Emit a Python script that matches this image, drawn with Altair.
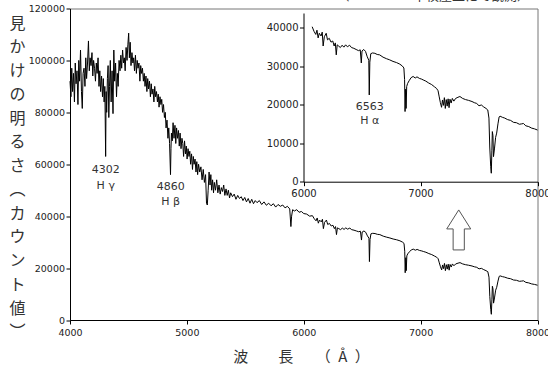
import altair as alt
import pandas as pd

# ---- spectrum (wavelength in Å, counts) ----
wavelength = [
    4000, 4008, 4015, 4022, 4030, 4038, 4045, 4052, 4060, 4068, 4075, 4082, 4090, 4098, 4105, 4112,
    4120, 4128, 4135, 4142, 4150, 4158, 4165, 4172, 4180, 4188, 4195, 4202, 4210, 4218, 4225, 4232,
    4240, 4248, 4255, 4262, 4270, 4278, 4285, 4292, 4298, 4305, 4309, 4314, 4320, 4326, 4332, 4338,
    4345, 4352, 4360, 4368, 4375, 4382, 4390, 4398, 4405, 4412, 4420, 4428, 4435, 4442, 4450, 4458,
    4465, 4472, 4480, 4488, 4495, 4502, 4508, 4515, 4522, 4530, 4538, 4545, 4552, 4560, 4568, 4575,
    4582, 4590, 4598, 4605, 4612, 4620, 4628, 4635, 4642, 4650, 4658, 4665, 4672, 4680, 4688, 4695,
    4702, 4710, 4718, 4725, 4732, 4740, 4748, 4755, 4762, 4770, 4778, 4785, 4792, 4800, 4808, 4815,
    4822, 4830, 4838, 4845, 4852, 4860, 4864, 4868, 4875, 4882, 4890, 4898, 4905, 4912, 4920, 4928,
    4935, 4942, 4950, 4958, 4965, 4972, 4980, 4988, 4995, 5002, 5010, 5018, 5025, 5032, 5040, 5048,
    5055, 5062, 5070, 5078, 5085, 5092, 5100, 5110, 5120, 5130, 5140, 5150, 5160, 5168, 5175, 5182,
    5190, 5198, 5205, 5212, 5220, 5228, 5235, 5245, 5255, 5265, 5275, 5285, 5295, 5305, 5315, 5325,
    5335, 5345, 5355, 5365, 5375, 5390, 5405, 5420, 5435, 5450, 5465, 5480, 5495, 5510, 5525, 5540,
    5555, 5570, 5585, 5600, 5620, 5640, 5660, 5680, 5700, 5720, 5740, 5760, 5780, 5800, 5820, 5840,
    5860, 5880, 5890, 5896, 5905, 5920, 5940, 5960, 5980, 6000, 6025, 6050,
    6074, 6090, 6105, 6115, 6125, 6135, 6150, 6160, 6168, 6178, 6194, 6205, 6220, 6235, 6250, 6262,
    6272, 6280, 6288, 6300, 6315, 6330, 6345, 6360, 6375, 6394, 6410, 6430, 6450, 6470, 6485, 6494,
    6500, 6515, 6530, 6545, 6558, 6562, 6567, 6575, 6590, 6610, 6630, 6651, 6680, 6710, 6737, 6765,
    6795, 6823, 6845, 6858, 6864, 6868, 6873, 6877, 6882, 6890, 6905, 6920, 6937, 6955, 6970, 6990,
    7010, 7023, 7045, 7070, 7095, 7120, 7137, 7150, 7160, 7170, 7180, 7188, 7196, 7204, 7212, 7220,
    7228, 7236, 7244, 7252, 7262, 7272, 7285, 7300, 7320, 7337, 7360, 7385, 7410, 7440, 7460, 7480,
    7500, 7520, 7540, 7560, 7575, 7585, 7592, 7600, 7605, 7610, 7614, 7619, 7624, 7632, 7642, 7651,
    7662, 7672, 7680, 7700, 7720, 7745, 7770, 7795, 7820, 7845, 7865, 7880, 7900, 7925, 7950, 7975,
    8000,
]
counts = [
    92000, 86000, 97000, 88000, 95000, 84000, 99000, 91000, 96000, 83000, 100000, 92000, 104000, 88000, 81500, 95000,
    97000, 90000, 101000, 93000, 99000, 107500, 96000, 101000, 98000, 103000, 94000, 100000, 97000, 92000, 99000, 95000,
    101000, 90000, 96000, 88000, 94000, 86000, 93000, 84000, 90000, 63000, 88000, 80000, 93000, 98000, 78000, 90000,
    100000, 84000, 96000, 79500, 104000, 92000, 99000, 86000, 95000, 90000, 100000, 96000, 102000, 97000, 104000, 99000,
    101000, 96000, 105000, 100000, 106000, 110500, 101000, 107000, 98000, 103000, 99000, 101000, 96000, 102000, 95000, 100000,
    97000, 99000, 92000, 98000, 95000, 97000, 92000, 95000, 90000, 94000, 88000, 93000, 89000, 92000, 86000, 91000,
    87000, 89000, 84000, 90000, 86000, 88000, 84000, 87000, 82000, 86000, 83000, 85000, 80000, 83000, 78000, 80000,
    74000, 77000, 70000, 74000, 68000, 56000, 66000, 72000, 69000, 76000, 70000, 75000, 68000, 74000, 70000, 73000,
    67000, 72000, 66000, 70000, 68000, 63000, 69000, 64000, 67000, 62000, 66000, 63000, 65000, 60000, 64000, 58000,
    63000, 60000, 62000, 57000, 61000, 56000, 60000, 57000, 59000, 54000, 58000, 53000, 56000, 45000, 44300, 50000,
    57000, 52000, 56000, 50000, 54000, 49000, 53000, 50000, 54000, 49000, 52000, 48500, 51000, 49500, 52000, 48000,
    50500, 48000, 50000, 47000, 49000, 47500, 48500, 46500, 48000, 46800, 47500, 46000, 47200, 45500, 46800, 45000,
    46500, 44800, 46000, 45200, 46000, 44500, 45500, 44200, 45000, 44000, 44800, 43500, 44500, 43800, 44300, 43200,
    43800, 42800, 36000, 40000, 42500, 42000, 42500, 41500, 41800, 41000, 40800, 40000,
    40200, 39000, 38200, 39300, 37300, 38500, 37800, 38800, 35200, 37600, 38500, 36800, 37200, 36200, 36500, 35200,
    36000, 32900, 35500, 35200, 34800, 35400, 34900, 35500, 35000, 35400, 34800, 34600, 34300, 34000, 34200, 30800,
    33900, 34300, 33800, 32400, 31500, 22500, 31000, 33200, 33400, 33300, 33000, 32900, 32300, 31900, 31600, 31200,
    30900, 30500, 30000, 29500, 26500, 18200, 24000, 19000, 24700, 25500, 26300, 27000, 27300, 26900, 27200, 26800,
    26600, 26400, 26100, 25600, 25200, 24600, 24200, 23600, 22000, 20500, 19300, 21200, 19800, 21800, 19000, 21300,
    19600, 21500, 19200, 21400, 20400, 21600, 20900, 21600, 21900, 22100, 21600, 21300, 21100, 20800, 20500, 20300,
    19700, 19900, 19400, 19000, 18600, 16500, 9000, 4000, 2200, 8000, 13000, 12000, 6500, 8500, 11500, 12600,
    15000, 16800, 17000, 16700, 16500, 16100, 15900, 15400, 15300, 14900, 15000, 15100, 14500, 14300, 13900, 13700,
    13400,
]

# ---- axis ticks ----
main_x_ticks = [4000, 5000, 6000, 7000, 8000]
main_y_ticks = [0, 20000, 40000, 60000, 80000, 100000, 120000]
inset_x_ticks = [6000, 7000, 8000]
inset_y_ticks = [0, 10000, 20000, 30000, 40000]

# ---- annotations ----
main_ann_wl = [4306, 4306, 4862, 4862]
main_ann_val = [57800, 51600, 51300, 45600]
main_ann_text = ["4302", "H γ", "4860", "H β"]
inset_ann_wl = [6566, 6566]
inset_ann_val = [19450, 15750]
inset_ann_text = ["6563", "H α"]
arrow_wl = [7326]
arrow_val = [34700]

y_title = ["見", "か", "け", "の", "明", "る", "さ", "︵", "カ", "ウ", "ン", "ト", "値", "︶"]
x_title = "波　　長　　（\u2002Å\u2002）"
caption = "（2014.5.1　本校屋上にて観測）"

spec = pd.DataFrame({"wl": wavelength, "v": counts})
spec_inset = spec[spec["wl"] >= 6070]
ann_main = pd.DataFrame({"wl": main_ann_wl, "v": main_ann_val, "t": main_ann_text})
ann_inset = pd.DataFrame({"wl": inset_ann_wl, "v": inset_ann_val, "t": inset_ann_text})
arrow_df = pd.DataFrame({"wl": arrow_wl, "v": arrow_val})

W, H = 467.5, 311.5
TICKFONT = "DejaVu Sans"
JP = "Noto Sans CJK JP"

main_x = alt.X("wl:Q", scale=alt.Scale(domain=[4000, 8000], nice=False, zero=False),
               axis=alt.Axis(values=main_x_ticks, format="d", labelFlush=False, grid=False,
                             tickSize=4, labelPadding=3, labelFont=TICKFONT, labelFontSize=9.5,
                             labelColor="#222", domainColor="#000", tickColor="#000",
                             title=x_title, titleFont=JP, titleFontSize=15, titleFontWeight="normal",
                             titleColor="#333", titleBaseline="alphabetic", titleAlign="center",
                             titleX=231, titleY=41.7))
main_y = alt.Y("v:Q", scale=alt.Scale(domain=[0, 120000], nice=False),
               axis=alt.Axis(values=main_y_ticks, format="d", labelFlush=False, grid=False,
                             tickSize=4, labelPadding=1.5, labelFont=TICKFONT, labelFontSize=9.5,
                             labelColor="#222", domainColor="#000", tickColor="#000",
                             title=y_title, titleAngle=0, titleFont=JP, titleFontSize=16,
                             titleFontWeight="normal", titleColor="#333", titleAlign="center",
                             titleBaseline="alphabetic", titleLineHeight=23.75,
                             titleX=-53, titleY=19.5))

main_line = alt.Chart(spec).mark_line(color="black", strokeWidth=1).encode(x=main_x, y=main_y)
main_text = alt.Chart(ann_main).mark_text(font=TICKFONT, fontSize=11, color="#333",
                                          baseline="middle").encode(x="wl:Q", y="v:Q", text="t:N")
arrow = alt.Chart(arrow_df).mark_point(
    shape="M0,-1 L0.6,-0.05 L0.28,-0.05 L0.28,1 L-0.28,1 L-0.28,-0.05 L-0.6,-0.05 Z",
    size=1600, filled=True, fill="white", stroke="#555", strokeWidth=1, opacity=1
).encode(x="wl:Q", y="v:Q")
cap = alt.Chart(pd.DataFrame({"t": [caption]})).mark_text(
    font=JP, fontSize=13, color="#333", align="right", baseline="alphabetic"
).encode(x=alt.value(460), y=alt.value(-8.5), text="t:N")

main = alt.layer(main_line, main_text, arrow, cap)

inset_x = alt.X("wl:Q", scale=alt.Scale(domain=[6000, 8000], range=[233.5, 467.5], nice=False, zero=False),
                axis=alt.Axis(orient="bottom", offset=-138.3, values=inset_x_ticks, format="d",
                              labelFlush=False, grid=False, tickSize=4, labelPadding=3,
                              labelFont=TICKFONT, labelFontSize=10, labelColor="#222",
                              domainColor="#000", tickColor="#000", title=None))
inset_y = alt.Y("v:Q", scale=alt.Scale(domain=[0, 43760], range=[173.2, 4.5], nice=False),
                axis=alt.Axis(orient="left", offset=-233.5, values=inset_y_ticks, format="d",
                              labelFlush=False, grid=False, tickSize=4, labelPadding=1.5,
                              labelFont=TICKFONT, labelFontSize=10, labelColor="#222",
                              domainColor="#000", tickColor="#000", title=None))

inset_line = alt.Chart(spec_inset).mark_line(color="black", strokeWidth=1).encode(x=inset_x, y=inset_y)
inset_text = alt.Chart(ann_inset).mark_text(font=TICKFONT, fontSize=11, color="#333",
                                            baseline="middle").encode(x="wl:Q", y="v:Q", text="t:N")
inset = alt.layer(inset_line, inset_text)

chart = alt.layer(main, inset).resolve_scale(
    x="independent", y="independent"
).resolve_axis(x="independent", y="independent").properties(
    width=W, height=H,
    padding={"left": 70, "top": 8.5, "right": 10.5, "bottom": 48},
    autosize=alt.AutoSizeParams(type="none"),
    background="white",
).configure_view(stroke="#777", strokeWidth=1)

chart.save("out.html", embed_options={"renderer": "svg", "actions": False})
